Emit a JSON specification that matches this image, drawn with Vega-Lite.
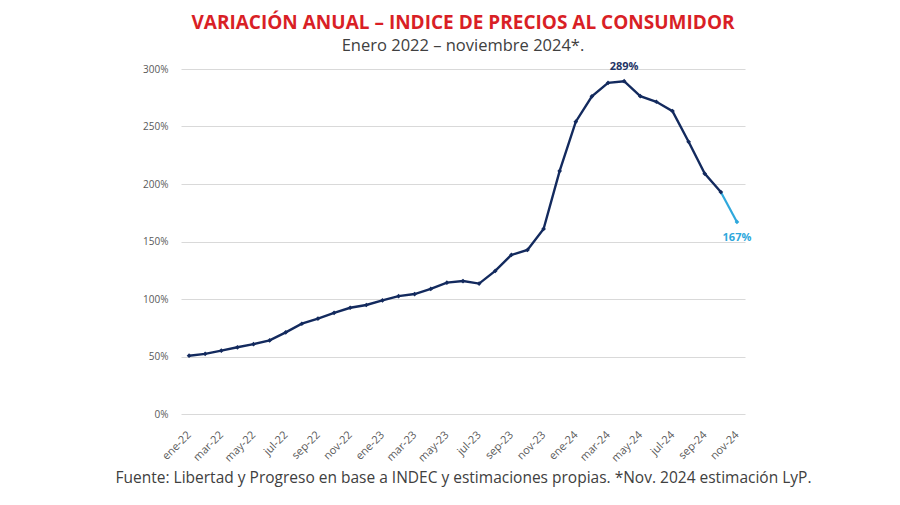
{
  "$schema": "https://vega.github.io/schema/vega-lite/v6.json",
  "autosize": "none",
  "width": 564,
  "height": 345,
  "padding": {"left": 181, "top": 69, "right": 155, "bottom": 91},
  "background": "white",
  "config": {"view": {"stroke": null}, "font": "Open Sans"},
  "title": {
    "text": "VARIACIÓN ANUAL – INDICE DE PRECIOS AL CONSUMIDOR",
    "subtitle": "Enero 2022 – noviembre 2024*.",
    "anchor": "middle",
    "frame": "group",
    "font": "Open Sans",
    "fontSize": 19,
    "fontWeight": 700,
    "color": "#d91f26",
    "subtitleFont": "Open Sans",
    "subtitleFontSize": 16.5,
    "subtitleColor": "#404040",
    "subtitlePadding": 5,
    "offset": 7
  },
  "datasets": {
    "ipc": [
      {"mes": "ene-22", "tipo": "INDEC", "valor": 0.507},
      {"mes": "feb-22", "tipo": "INDEC", "valor": 0.523},
      {"mes": "mar-22", "tipo": "INDEC", "valor": 0.551},
      {"mes": "abr-22", "tipo": "INDEC", "valor": 0.580},
      {"mes": "may-22", "tipo": "INDEC", "valor": 0.607},
      {"mes": "jun-22", "tipo": "INDEC", "valor": 0.640},
      {"mes": "jul-22", "tipo": "INDEC", "valor": 0.710},
      {"mes": "ago-22", "tipo": "INDEC", "valor": 0.785},
      {"mes": "sep-22", "tipo": "INDEC", "valor": 0.830},
      {"mes": "oct-22", "tipo": "INDEC", "valor": 0.880},
      {"mes": "nov-22", "tipo": "INDEC", "valor": 0.924},
      {"mes": "dic-22", "tipo": "INDEC", "valor": 0.948},
      {"mes": "ene-23", "tipo": "INDEC", "valor": 0.988},
      {"mes": "feb-23", "tipo": "INDEC", "valor": 1.025},
      {"mes": "mar-23", "tipo": "INDEC", "valor": 1.043},
      {"mes": "abr-23", "tipo": "INDEC", "valor": 1.088},
      {"mes": "may-23", "tipo": "INDEC", "valor": 1.142},
      {"mes": "jun-23", "tipo": "INDEC", "valor": 1.156},
      {"mes": "jul-23", "tipo": "INDEC", "valor": 1.134},
      {"mes": "ago-23", "tipo": "INDEC", "valor": 1.244},
      {"mes": "sep-23", "tipo": "INDEC", "valor": 1.383},
      {"mes": "oct-23", "tipo": "INDEC", "valor": 1.427},
      {"mes": "nov-23", "tipo": "INDEC", "valor": 1.609},
      {"mes": "dic-23", "tipo": "INDEC", "valor": 2.114},
      {"mes": "ene-24", "tipo": "INDEC", "valor": 2.542},
      {"mes": "feb-24", "tipo": "INDEC", "valor": 2.762},
      {"mes": "mar-24", "tipo": "INDEC", "valor": 2.879},
      {"mes": "abr-24", "tipo": "INDEC", "valor": 2.894},
      {"mes": "may-24", "tipo": "INDEC", "valor": 2.764},
      {"mes": "jun-24", "tipo": "INDEC", "valor": 2.715},
      {"mes": "jul-24", "tipo": "INDEC", "valor": 2.634},
      {"mes": "ago-24", "tipo": "INDEC", "valor": 2.367},
      {"mes": "sep-24", "tipo": "INDEC", "valor": 2.090},
      {"mes": "oct-24", "tipo": "INDEC", "valor": 1.930},
      {"mes": "nov-24", "tipo": "Estimación LyP", "valor": 1.670}
    ]
  },
  "data": {"name": "ipc"},
  "encoding": {
    "x": {
      "field": "mes",
      "type": "ordinal",
      "sort": ["ene-22","feb-22","mar-22","abr-22","may-22","jun-22","jul-22","ago-22","sep-22","oct-22","nov-22","dic-22","ene-23","feb-23","mar-23","abr-23","may-23","jun-23","jul-23","ago-23","sep-23","oct-23","nov-23","dic-23","ene-24","feb-24","mar-24","abr-24","may-24","jun-24","jul-24","ago-24","sep-24","oct-24","nov-24"],
      "scale": {"type": "point", "padding": 0.5},
      "axis": {
        "values": ["ene-22","mar-22","may-22","jul-22","sep-22","nov-22","ene-23","mar-23","may-23","jul-23","sep-23","nov-23","ene-24","mar-24","may-24","jul-24","sep-24","nov-24"],
        "labelAngle": -45,
        "labelAlign": "right",
        "labelBaseline": "middle",
        "labelFontSize": 11,
        "labelColor": "#595959",
        "labelPadding": 19,
        "ticks": false,
        "domain": false,
        "grid": false,
        "title": "Fuente: Libertad y Progreso en base a INDEC y estimaciones propias. *Nov. 2024 estimación LyP.",
        "titleFontSize": 15.5,
        "titleFontWeight": "normal",
        "titleColor": "#404040",
        "titlePadding": 7
      }
    },
    "y": {
      "field": "valor",
      "type": "quantitative",
      "scale": {"domain": [0, 3]},
      "axis": {
        "values": [0, 0.5, 1, 1.5, 2, 2.5, 3],
        "format": ".0%",
        "labelFontSize": 10,
        "labelColor": "#595959",
        "labelPadding": 13,
        "ticks": false,
        "domain": false,
        "gridColor": "#d9d9d9",
        "gridWidth": 1,
        "title": null
      }
    }
  },
  "layer": [
    {
      "transform": [{"filter": {"field": "mes", "oneOf": ["oct-24", "nov-24"]}}],
      "mark": {"type": "line", "color": "#2fa8dc", "strokeWidth": 2.2}
    },
    {
      "transform": [{"filter": "datum.tipo === 'INDEC'"}],
      "mark": {"type": "line", "color": "#132a5e", "strokeWidth": 2.4}
    },
    {
      "transform": [{"filter": "datum.tipo === 'INDEC'"}],
      "mark": {"type": "point", "shape": "diamond", "filled": true, "size": 22, "color": "#132a5e", "opacity": 1}
    },
    {
      "transform": [{"filter": "datum.tipo !== 'INDEC'"}],
      "mark": {"type": "point", "shape": "diamond", "filled": true, "size": 22, "color": "#2fa8dc", "opacity": 1}
    },
    {
      "transform": [{"filter": "datum.mes === 'abr-24'"}],
      "mark": {"type": "text", "dy": -14, "fontSize": 11, "fontWeight": "bold", "color": "#1f3566"},
      "encoding": {"text": {"field": "valor", "type": "quantitative", "format": ".0%"}}
    },
    {
      "transform": [{"filter": "datum.mes === 'nov-24'"}],
      "mark": {"type": "text", "dy": 16, "fontSize": 11, "fontWeight": "bold", "color": "#2fa8dc"},
      "encoding": {"text": {"field": "valor", "type": "quantitative", "format": ".0%"}}
    }
  ]
}
